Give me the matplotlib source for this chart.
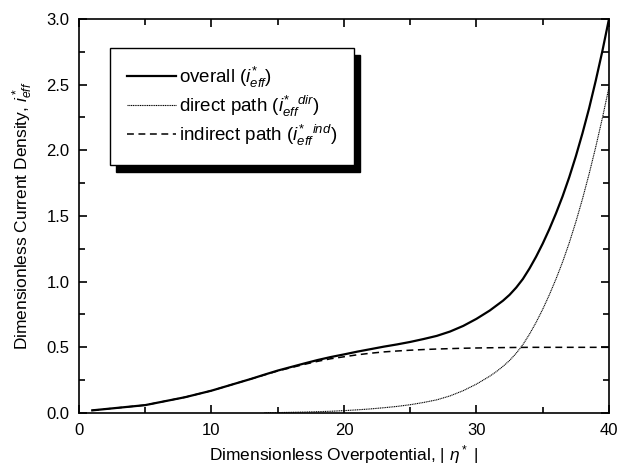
import numpy as np
import matplotlib.pyplot as plt
from matplotlib.ticker import MultipleLocator
import matplotlib.patches as mpatches

plt.rcParams['font.family'] = 'Liberation Sans'
plt.rcParams['mathtext.fontset'] = 'custom'
plt.rcParams['mathtext.rm'] = 'Liberation Sans'
plt.rcParams['mathtext.it'] = 'Liberation Sans:italic'

# valores
eta_ind = [1, 2, 3, 4, 5, 6, 7, 8, 9, 10, 11, 12, 13, 14, 15, 16, 17, 18, 19, 20,
           21, 22, 23, 24, 25, 26, 27, 28, 29, 30, 32, 34, 36, 38, 40]
i_ind = [0.02, 0.03, 0.04, 0.05, 0.06, 0.08, 0.10, 0.12, 0.145, 0.17, 0.20, 0.23,
         0.26, 0.29, 0.32, 0.345, 0.37, 0.393, 0.413, 0.428, 0.443, 0.455, 0.465,
         0.472, 0.478, 0.483, 0.487, 0.490, 0.493, 0.495, 0.498, 0.50, 0.50, 0.50, 0.50]

eta_dir = [14, 15, 16, 17, 18, 19, 20, 21, 22, 23, 24, 25, 26, 27, 28, 29, 30,
           30.5, 31, 31.5, 32, 32.5, 33, 33.5, 34, 34.5, 35, 35.5, 36, 36.5, 37,
           37.5, 38, 38.5, 39, 39.5, 40]
i_dir = [0.002, 0.003, 0.005, 0.007, 0.010, 0.013, 0.018, 0.024, 0.031, 0.040,
         0.050, 0.063, 0.080, 0.10, 0.13, 0.17, 0.22,
         0.25, 0.28, 0.315, 0.355, 0.40, 0.455, 0.52, 0.60, 0.69, 0.79, 0.90,
         1.02, 1.15, 1.295, 1.455, 1.63, 1.82, 2.025, 2.245, 2.48]

eta_tot = [1, 2, 3, 4, 5, 6, 7, 8, 9, 10, 11, 12, 13, 14, 15, 16, 17, 18, 19, 20,
           21, 22, 23, 24, 25, 26, 27, 28, 29, 30, 31, 32, 32.5, 33, 33.5, 34,
           34.5, 35, 35.5, 36, 36.5, 37, 37.5, 38, 38.5, 39, 39.5, 40]
i_tot = [0.02, 0.03, 0.04, 0.05, 0.06, 0.08, 0.10, 0.12, 0.145, 0.17, 0.20, 0.23,
         0.26, 0.292, 0.323, 0.35, 0.377, 0.403, 0.426, 0.446, 0.467, 0.486, 0.505,
         0.522, 0.541, 0.563, 0.587, 0.62, 0.663, 0.717, 0.78, 0.855, 0.90, 0.955,
         1.02, 1.10, 1.19, 1.29, 1.40, 1.52, 1.65, 1.795, 1.955, 2.13, 2.32, 2.53,
         2.755, 3.00]

fig = plt.figure(figsize=(6.18, 4.70), dpi=100)
ax = fig.add_axes([0.1278, 0.1213, 0.8576, 0.8383])

l1, = ax.plot(eta_tot, i_tot, '-k', lw=1.6)
l2, = ax.plot(eta_dir, i_dir, color='k', lw=0.8, ls=(0, (1, 0.6)))
l3, = ax.plot(eta_ind, i_ind, color='k', lw=1.1, ls=(0, (4.5, 3)))

ax.set_xlim(0, 40)
ax.set_ylim(0, 3.0)
ax.xaxis.set_major_locator(MultipleLocator(10))
ax.xaxis.set_minor_locator(MultipleLocator(5))
ax.yaxis.set_major_locator(MultipleLocator(0.5))
ax.yaxis.set_minor_locator(MultipleLocator(0.25))
ax.tick_params(which='both', direction='in', top=True, right=True, width=1.2,
               labelsize=12, pad=7)
ax.tick_params(which='major', length=6)
ax.tick_params(which='minor', length=4)
for s in ax.spines.values():
    s.set_linewidth(1.2)

ax.set_xlabel(r'Dimensionless Overpotential, | $\eta^*$ |', fontsize=12.5, labelpad=4)
ax.set_ylabel(r'Dimensionless Current Density, $i^*_{eff}$', fontsize=12.5, labelpad=8)

leg = ax.legend([l1, l2, l3],
                [r'overall ($i^{*}_{eff}$)',
                 r'direct path ($i^{*}_{eff}{}^{dir}$)',
                 r'indirect path ($i^{*}_{eff}{}^{ind}$)'],
                loc='upper left', bbox_to_anchor=(110 / 618, 1 - 48 / 470),
                bbox_transform=fig.transFigure, fontsize=13.5, frameon=True,
                fancybox=False, framealpha=1, edgecolor='k', borderpad=0.9,
                handlelength=2.6, handletextpad=0.2, labelspacing=0.2,
                borderaxespad=0)
leg.get_frame().set_linewidth(1.0)
leg.set_zorder(5)

# sombra de la leyenda, desplazada unos px
fig.canvas.draw()
bb = leg.get_frame().get_window_extent()
sombra = mpatches.Rectangle((bb.x0 + 6, bb.y0 - 7), bb.width, bb.height,
                            transform=None, facecolor='k', edgecolor='k',
                            zorder=4, clip_on=False)
ax.add_patch(sombra)

plt.savefig('out.png', dpi=100)
